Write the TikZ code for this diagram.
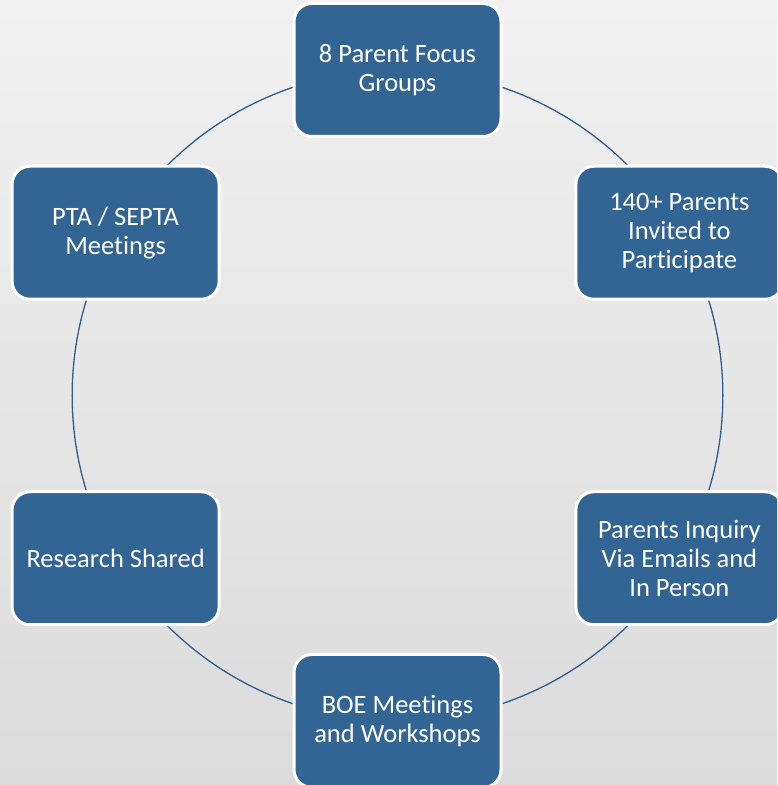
\documentclass[tikz,border=0pt]{standalone}
\usepackage{fontspec}
\setmainfont{Carlito}[Ligatures=NoCommon]
\usetikzlibrary{calc,backgrounds}
\definecolor{boxblue}{RGB}{51,101,148}
\definecolor{ringblue}{RGB}{46,94,145}
\tikzstyle{box}=[rectangle, rounded corners=18pt, fill=boxblue, draw=white, line width=3pt, minimum width=207pt, minimum height=133pt, inner sep=0pt, anchor=center, text=white, align=center, font=\fontsize{26.5}{29}\selectfont]
\tikzstyle{ring}=[draw=ringblue, line width=1.3pt, bend left=30, looseness=0.913]

\begin{document}
\begin{tikzpicture}[x=1pt,y=1pt]
	\useasboundingbox (0,0) rectangle (777,785);
	\clip (0,0) rectangle (777,785);
	\coordinate (c) at (397.5,389.5);
	\def\rad{325.5}

	\node[box](focus) at ($(c)+(90:\rad)$) {8 Parent Focus\\Groups};
	\node[box](invited) at ($(c)+(30:\rad)$) {140+ Parents\\Invited to\\Participate};
	\node[box](inquiry) at ($(c)+(-30:\rad)$) {Parents Inquiry\\Via Emails and\\In Person};
	\node[box](boe) at ($(c)+(-90:\rad)$) {BOE Meetings\\and Workshops};
	\node[box](research) at ($(c)+(-150:\rad)$) {Research Shared};
	\node[box](pta) at ($(c)+(150:\rad)$) {PTA / SEPTA\\Meetings};

	\begin{pgfonlayer}{background}
		\shade[top color={rgb,255:red,241;green,241;blue,241}, middle color={rgb,255:red,242;green,242;blue,242}, bottom color={rgb,255:red,219;green,219;blue,219}] (0,0) rectangle (777,785);
		%\draw[ringblue] (c) circle (\rad);
		\draw[ring] (focus.center) to (invited.center);
		\draw[ring] (invited.center) to (inquiry.center);
		\draw[ring] (inquiry.center) to (boe.center);
		\draw[ring] (boe.center) to (research.center);
		\draw[ring] (research.center) to (pta.center);
		\draw[ring] (pta.center) to (focus.center);
	\end{pgfonlayer}
\end{tikzpicture}
\end{document}
